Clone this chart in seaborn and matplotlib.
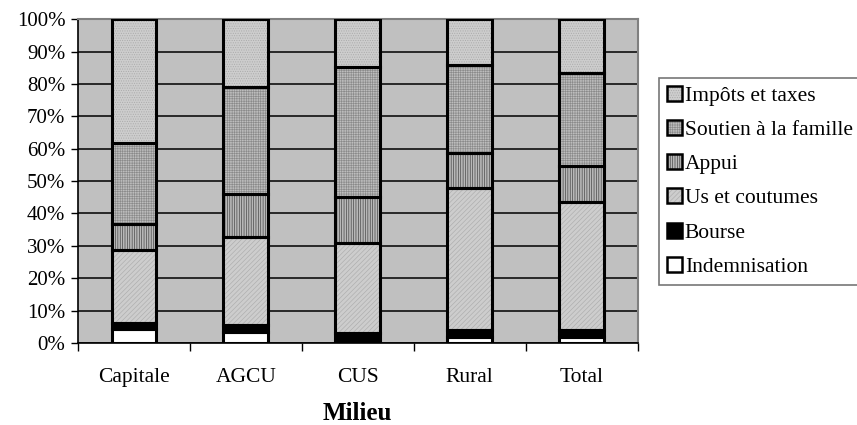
import numpy as np
import pandas as pd
import matplotlib
matplotlib.use('Agg')
import matplotlib.pyplot as plt
import seaborn as sns
from matplotlib.patches import Patch
from matplotlib.legend_handler import HandlerTuple

# data (percent of each milieu)
milieux = ['Capitale', 'AGCU', 'CUS', 'Rural', 'Total']
indemnisation = [4.4, 3.5, 0.0, 1.7, 1.7]
bourse = [1.8, 2.2, 3.2, 2.3, 2.4]
us_coutumes = [22.6, 27.0, 27.6, 43.9, 39.3]
appui = [8.0, 13.4, 14.3, 10.8, 11.4]
soutien = [25.1, 33.0, 40.1, 27.2, 28.5]
impots = [38.1, 20.9, 14.8, 14.1, 16.7]

series = [
    ('Indemnisation', indemnisation),
    ('Bourse', bourse),
    ('Us et coutumes', us_coutumes),
    ('Appui', appui),
    ('Soutien à la famille', soutien),
    ('Impôts et taxes', impots),
]
# fill colour, hatch, hatch colour
styles = {
    'Indemnisation': ('white', None, 'white'),
    'Bourse': ('black', None, 'black'),
    'Us et coutumes': ('#cdcdcd', '///////', '#adadad'),
    'Appui': ('#b8b8b8', '|||||||', '#3c3c3c'),
    'Soutien à la famille': ('#bdbdbd', '+++++++', '#8a8a8a'),
    'Impôts et taxes': ('#cdcdcd', '.......', '#aaaaaa'),
}

plt.rcParams['font.family'] = ['Liberation Serif', 'DejaVu Serif']
plt.rcParams['hatch.linewidth'] = 0.45

fig = plt.figure(figsize=(8.57, 4.25), dpi=100)
ax = fig.add_axes([0.091, 0.193, 0.653, 0.762])
ax.set_facecolor('#c0c0c0')
ax.set_axisbelow(True)

bottom = np.zeros(len(milieux))
for name, vals in series:
    fc, hatch, hc = styles[name]
    df = pd.DataFrame({'milieu': milieux, 'val': vals})
    # pattern layer
    sns.barplot(data=df, x='milieu', y='val', ax=ax, color=fc, saturation=1,
                width=0.4, errorbar=None, bottom=bottom, hatch=hatch,
                edgecolor=hc, linewidth=0, zorder=2)
    # outline layer
    sns.barplot(data=df, x='milieu', y='val', ax=ax, color='black', fill=False,
                width=0.4, errorbar=None, bottom=bottom, edgecolor='black',
                linewidth=2.2, zorder=3)
    bottom = bottom + np.array(vals)

ax.set_ylim(0, 100)
ax.set_xlim(-0.5, len(milieux) - 0.5)
ax.set_yticks(np.arange(0, 101, 10))
ax.set_yticklabels([f'{v}%' for v in range(0, 101, 10)], fontsize=15)
ax.yaxis.grid(True, color='black', linewidth=1.1)
ax.xaxis.grid(False)

ax.set_xticks(np.arange(-0.5, len(milieux), 1))
ax.set_xticklabels([])
ax.set_xticks(np.arange(len(milieux)), minor=True)
ax.set_xticklabels(milieux, minor=True, fontsize=15.5)
ax.tick_params(axis='x', which='minor', length=0, pad=18)
ax.tick_params(axis='x', which='major', length=6, width=1, direction='out')
ax.tick_params(axis='y', length=5, width=1, direction='out', pad=4)

ax.set_xlabel('Milieu', fontsize=18, fontweight='bold', labelpad=11)
ax.set_ylabel('')

for side in ['left', 'bottom']:
    ax.spines[side].set_color('black')
    ax.spines[side].set_linewidth(1.2)
for side in ['top', 'right']:
    ax.spines[side].set_color('#808080')
    ax.spines[side].set_linewidth(1.5)

handles = []
labels = []
for name, vals in reversed(series):
    fc, hatch, hc = styles[name]
    pat = Patch(facecolor=fc, hatch=hatch, edgecolor=hc, linewidth=0)
    box = Patch(facecolor='none', edgecolor='black', linewidth=1.8)
    handles.append((pat, box))
    labels.append(name)
leg = fig.legend(handles=handles, labels=labels, loc='upper left',
                 handler_map={tuple: HandlerTuple(ndivide=1, pad=0)},
                 bbox_to_anchor=(659 / 857, 1 - 78 / 425), fontsize=15.5,
                 frameon=True, fancybox=False, edgecolor='#555555',
                 handlelength=0.7, handleheight=0.7, handletextpad=0.15,
                 labelspacing=0.66, borderpad=0.35, borderaxespad=0)
leg.get_frame().set_linewidth(1.2)

fig.savefig('out.png', dpi=100)
